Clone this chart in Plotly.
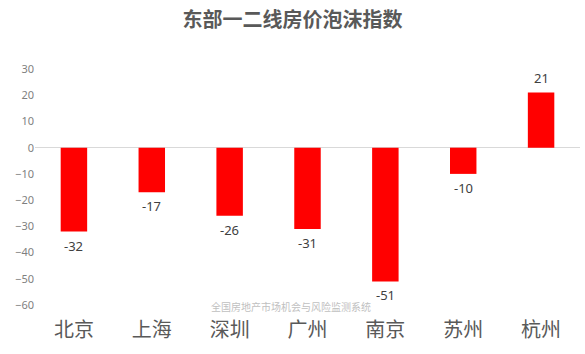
import plotly.graph_objects as go

categories = ["北京", "上海", "深圳", "广州", "南京", "苏州", "杭州"]
values = [-32, -17, -26, -31, -51, -10, 21]
y_ticks = [30, 20, 10, 0, -10, -20, -30, -40, -50, -60]

title_text = "东部一二线房价泡沫指数"
watermark = "全国房地产市场机会与风险监测系统"

FONT = "Noto Sans, Noto Sans CJK SC, sans-serif"

fig = go.Figure()
fig.add_trace(go.Bar(
    x=categories, y=values,
    marker=dict(color="#FF0000", line=dict(width=0)),
    width=0.34,
    cliponaxis=False,
))

annotations = []
for c, v in zip(categories, values):
    annotations.append(dict(
        x=c, y=v, xref="x", yref="y", text=str(v), showarrow=False,
        xanchor="center", yanchor="middle",
        yshift=(15 if v >= 0 else -14),
        font=dict(size=13, color="#404040", family=FONT)))

annotations.append(dict(text=watermark, xref="paper", yref="paper",
                        x=0.47, y=-0.006, xanchor="center", yanchor="middle",
                        showarrow=False,
                        font=dict(size=10, color="#BFBFBF", family="Noto Sans CJK SC")))

fig.update_layout(
    width=585, height=354,
    margin=dict(l=35, r=5, t=69, b=48.5),
    paper_bgcolor="white", plot_bgcolor="white",
    showlegend=False,
    font=dict(family=FONT),
    title=dict(text="<b>" + title_text + "</b>", x=0.5, xanchor="center",
               y=1 - 20/354, yanchor="middle",
               font=dict(size=20, color="#595959", family="Noto Sans CJK SC")),
    xaxis=dict(showgrid=False, showline=False, ticks="",
               ticklabelstandoff=11,
               tickfont=dict(size=20, color="#595959", family="Noto Sans CJK SC")),
    yaxis=dict(range=[-60, 30], tickvals=y_ticks, showgrid=False,
               zeroline=True, zerolinecolor="#D9D9D9", zerolinewidth=1,
               showline=False, ticks="",
               tickfont=dict(size=11, color="#7F7F7F", family=FONT)),
    annotations=annotations,
    bargap=0.66,
)

fig.write_html("out.html")
